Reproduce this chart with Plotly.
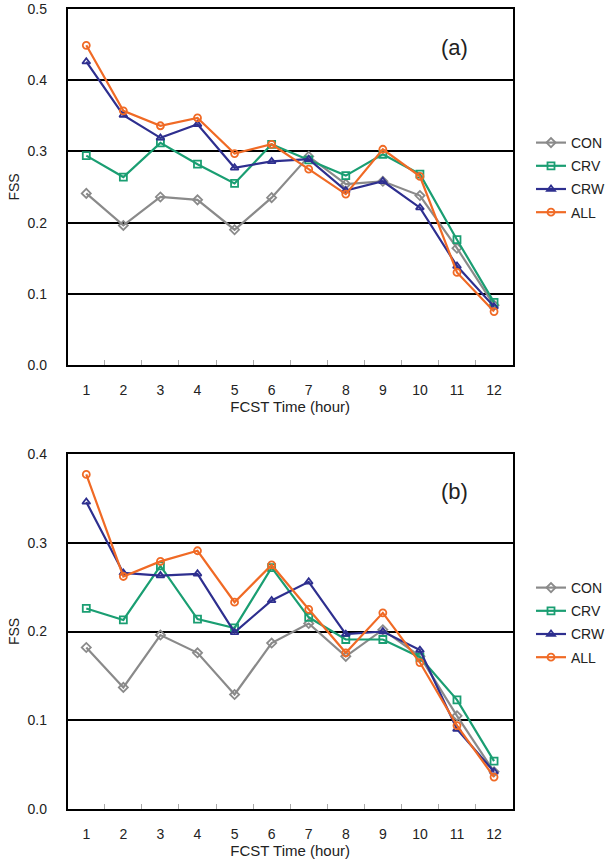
import plotly.graph_objects as go

hours = [str(h) for h in range(1, 13)]
series_names = ["CON", "CRV", "CRW", "ALL"]

con_a = [0.241, 0.196, 0.236, 0.232, 0.190, 0.235, 0.293, 0.254, 0.258, 0.238, 0.164, 0.084]
crv_a = [0.294, 0.264, 0.312, 0.282, 0.255, 0.310, 0.288, 0.266, 0.296, 0.268, 0.176, 0.088]
crw_a = [0.426, 0.351, 0.319, 0.338, 0.277, 0.286, 0.289, 0.245, 0.258, 0.221, 0.139, 0.082]
all_a = [0.449, 0.357, 0.336, 0.347, 0.297, 0.310, 0.275, 0.240, 0.303, 0.265, 0.130, 0.075]

con_b = [0.182, 0.137, 0.196, 0.176, 0.129, 0.187, 0.209, 0.172, 0.202, 0.172, 0.105, 0.042]
crv_b = [0.226, 0.213, 0.274, 0.214, 0.204, 0.272, 0.216, 0.191, 0.191, 0.171, 0.123, 0.054]
crw_b = [0.346, 0.266, 0.263, 0.265, 0.199, 0.235, 0.256, 0.197, 0.200, 0.179, 0.090, 0.042]
all_b = [0.377, 0.262, 0.279, 0.291, 0.233, 0.275, 0.225, 0.176, 0.221, 0.165, 0.094, 0.036]

panel_a = [con_a, crv_a, crw_a, all_a]
panel_b = [con_b, crv_b, crw_b, all_b]

colors = ["#8a8a8a", "#1a9e72", "#2e2f8f", "#f06a25"]
symbols = ["diamond-open", "square-open", "triangle-up-open", "circle-open"]

FONT = "Liberation Sans, Arial, sans-serif"
W, H = 610, 865


def px_x(p):
    return p / W


def px_y(p):
    return 1 - p / H


fig = go.Figure()

for vals, xa, ya, leg in [(panel_a, "x", "y", "legend"), (panel_b, "x2", "y2", "legend2")]:
    for name, v, c, s in zip(series_names, vals, colors, symbols):
        fig.add_trace(go.Scatter(
            x=hours, y=v, name=name, mode="lines+markers",
            line=dict(color=c, width=2.2),
            marker=dict(symbol=s, size=7, color=c, line=dict(color=c, width=1.8)),
            xaxis=xa, yaxis=ya, legend=leg, legendgroup=f"{leg}{name}",
        ))

axis_common = dict(
    showline=True, linecolor="black", linewidth=2, mirror=True,
    tickfont=dict(family=FONT, size=14, color="#222"),
    zeroline=False, automargin=False,
)

xcommon = dict(type="category", range=[-0.5, 11.5], tickson="boundaries",
               ticks="inside", ticklen=5, tickcolor="#aaa", tickwidth=1,
               showgrid=False, ticklabelstandoff=11,
               title=dict(text="FCST Time (hour)", font=dict(size=15), standoff=3),
               **axis_common)
ycommon = dict(dtick=0.1, tickformat=".1f", showgrid=True, gridcolor="black",
               gridwidth=1.6, ticks="", ticklabelstandoff=16,
               title=dict(text="FSS", font=dict(size=14), standoff=5),
               **axis_common)

fig.update_layout(
    width=W, height=H,
    margin=dict(l=0, r=0, t=0, b=0),
    paper_bgcolor="white", plot_bgcolor="white",
    font=dict(family=FONT, color="#222"),
    xaxis=dict(domain=[px_x(69), px_x(522)], anchor="y", **xcommon),
    yaxis=dict(domain=[px_y(365), px_y(9)], anchor="x", range=[0, 0.5], **ycommon),
    xaxis2=dict(domain=[px_x(69), px_x(522)], anchor="y2", **xcommon),
    yaxis2=dict(domain=[px_y(809), px_y(454)], anchor="x2", range=[0, 0.4], **ycommon),
    legend=dict(x=px_x(541), y=px_y(127), xanchor="left", yanchor="top",
                font=dict(family=FONT, size=14, color="#222"),
                tracegroupgap=2, itemwidth=30, bgcolor="rgba(0,0,0,0)"),
    legend2=dict(x=px_x(541), y=px_y(572), xanchor="left", yanchor="top",
                 font=dict(family=FONT, size=14, color="#222"),
                 tracegroupgap=2, itemwidth=30, bgcolor="rgba(0,0,0,0)"),
    annotations=[
        dict(text="(a)", xref="x domain", yref="y domain", x=0.87, y=0.893,
             xanchor="center", yanchor="middle",
             showarrow=False, font=dict(family=FONT, size=22, color="#222")),
        dict(text="(b)", xref="x2 domain", yref="y2 domain", x=0.87, y=0.893,
             xanchor="center", yanchor="middle",
             showarrow=False, font=dict(family=FONT, size=22, color="#222")),
    ],
)

fig.write_html("out.html", config={"displayModeBar": False},
               post_script="document.body.style.margin='0px';")
